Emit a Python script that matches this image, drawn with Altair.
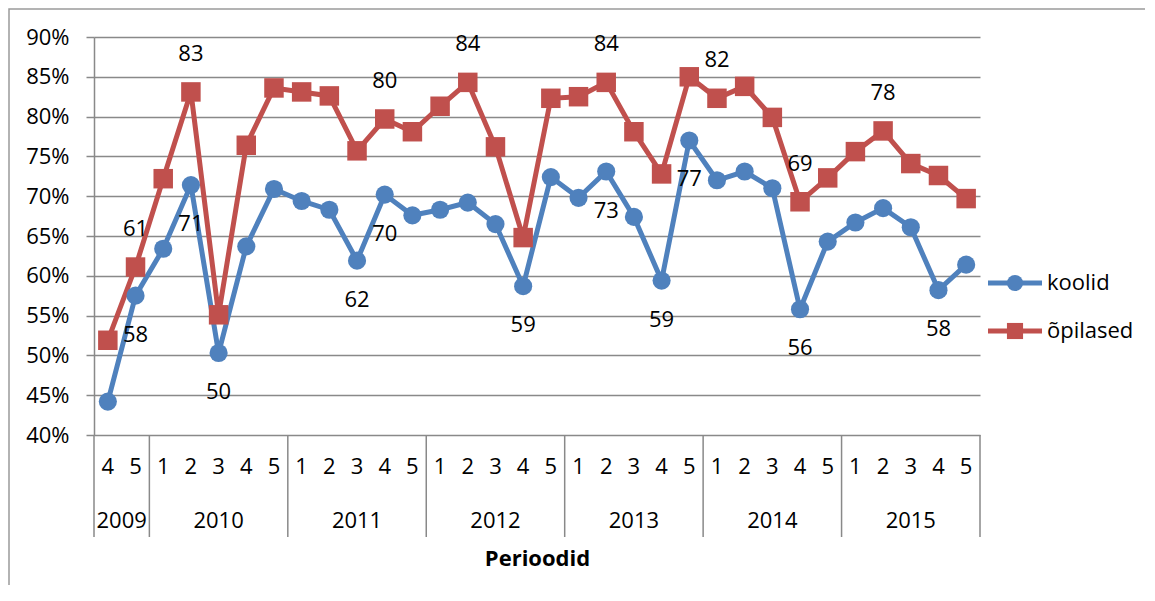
import altair as alt
import pandas as pd

# ---- data ----
years = ["2009", "2009",
         "2010", "2010", "2010", "2010", "2010",
         "2011", "2011", "2011", "2011", "2011",
         "2012", "2012", "2012", "2012", "2012",
         "2013", "2013", "2013", "2013", "2013",
         "2014", "2014", "2014", "2014", "2014",
         "2015", "2015", "2015", "2015", "2015"]
quarters = ["4", "5",
            "1", "2", "3", "4", "5",
            "1", "2", "3", "4", "5",
            "1", "2", "3", "4", "5",
            "1", "2", "3", "4", "5",
            "1", "2", "3", "4", "5",
            "1", "2", "3", "4", "5"]
koolid = [44.2, 57.5, 63.4, 71.4, 50.3, 63.7, 70.9, 69.4, 68.3, 61.9, 70.2,
          67.6, 68.3, 69.2, 66.5, 58.7, 72.4, 69.8, 73.1, 67.4, 59.4, 77.0,
          72.0, 73.1, 71.0, 55.8, 64.3, 66.7, 68.5, 66.1, 58.2, 61.4]
opilased = [51.9, 61.1, 72.2, 83.1, 55.1, 76.4, 83.6, 83.1, 82.6, 75.7, 79.7,
            78.1, 81.3, 84.3, 76.2, 64.8, 82.3, 82.5, 84.3, 78.1, 72.8, 85.0,
            82.3, 83.8, 79.9, 69.3, 72.3, 75.6, 78.2, 74.1, 72.6, 69.7]
koolid_labels = ["", "58", "", "71", "50", "", "", "", "", "62", "70", "", "", "",
                 "", "59", "", "", "73", "", "59", "77", "", "", "", "56", "", "",
                 "", "", "58", ""]
opilased_labels = ["", "61", "", "83", "", "", "", "", "", "", "80", "", "", "84",
                   "", "", "", "", "84", "", "", "", "82", "", "", "69", "", "",
                   "78", "", "", ""]
series_names = ["koolid", "õpilased"]
colors = ["#4F81BD", "#C0504D"]
y_ticks = [0.40, 0.45, 0.50, 0.55, 0.60, 0.65, 0.70, 0.75, 0.80, 0.85, 0.90]

FONT = "Open Sans"
GRAY = "#898989"
FS = 22

# ---- tables ----
n = len(years)
rows = []
for i in range(n):
    rows.append({"i": i, "year": years[i], "q": quarters[i], "series": "koolid",
                 "v": koolid[i] / 100, "lab": koolid_labels[i]})
for i in range(n):
    rows.append({"i": i, "year": years[i], "q": quarters[i], "series": "õpilased",
                 "v": opilased[i] / 100, "lab": opilased_labels[i]})
df = pd.DataFrame(rows)

cats = pd.DataFrame({"i": list(range(n)), "q": quarters, "year": years})
yr = cats.groupby("year", sort=False)["i"].agg(["min", "max"]).reset_index()
yr["center"] = (yr["min"] + yr["max"]) / 2
bounds = pd.DataFrame({"b": [m - 0.5 for m in yr["min"]] + [yr["max"].iloc[-1] + 0.5]})

xscale = alt.Scale(domain=[-0.5, n - 0.5], nice=False, zero=False)
yscale = alt.Scale(domain=[0.4, 0.9], nice=False, zero=False)
cscale = alt.Scale(domain=series_names, range=colors)

xaxis = alt.Axis(labels=False, ticks=False, grid=False, domain=False,
                 title="Perioodid", titleFont=FONT, titleFontSize=FS,
                 titleFontWeight="bold", titleColor="black", titlePadding=113)
yaxis = alt.Axis(values=y_ticks, tickCount=11, format=".0%", title=None,
                 labelOverlap=False, labelFont=FONT, labelFontSize=FS,
                 labelColor="black", labelPadding=17, tickSize=8,
                 tickColor=GRAY, tickWidth=1.5, domainColor=GRAY,
                 domainWidth=1.5, gridColor=GRAY, gridWidth=1.5)
X = alt.X("i:Q", scale=xscale, axis=xaxis)
Y = alt.Y("v:Q", scale=yscale, axis=yaxis)

base = alt.Chart(df)

lines = base.mark_line(strokeWidth=5).encode(
    x=X, y=Y,
    color=alt.Color("series:N", scale=cscale, legend=None),
    detail="series:N",
)
circles = base.transform_filter(alt.datum.series == "koolid").mark_point(
    shape="circle", filled=True, opacity=1, size=330, strokeWidth=0
).encode(x=X, y=Y, color=alt.Color("series:N", scale=cscale, legend=None))
squares = base.transform_filter(alt.datum.series == "õpilased").mark_point(
    shape="square", filled=True, opacity=1, size=380, strokeWidth=0
).encode(x=X, y=Y, color=alt.Color("series:N", scale=cscale, legend=None))

lab_k = base.transform_filter(alt.datum.series == "koolid").mark_text(
    font=FONT, fontSize=FS, color="black", dy=39, baseline="middle"
).encode(x=X, y=Y, text="lab:N")
lab_o = base.transform_filter(alt.datum.series == "õpilased").mark_text(
    font=FONT, fontSize=FS, color="black", dy=-38, baseline="middle"
).encode(x=X, y=Y, text="lab:N")

# category axis (two levels)
q_text = alt.Chart(cats).mark_text(font=FONT, fontSize=FS, color="black",
                                   baseline="middle").encode(
    x=X, y=alt.value(430), text="q:N")
y_text = alt.Chart(yr).mark_text(font=FONT, fontSize=FS, color="black",
                                 baseline="middle").encode(
    x=alt.X("center:Q", scale=xscale, axis=xaxis), y=alt.value(484), text="year:N")
seps = alt.Chart(bounds).mark_rule(color=GRAY, strokeWidth=1.5).encode(
    x=alt.X("b:Q", scale=xscale, axis=xaxis), y=alt.value(398), y2=alt.value(500))

# legend (line segment with marker + label), drawn to the right of the plot
leg_df = pd.DataFrame({"name": series_names, "color": colors})
legend_layers = []
for k, (name, col, shp, sz) in enumerate(zip(series_names, colors,
                                               ["circle", "square"], [260, 260])):
    ly = 246 + 48 * k
    one = leg_df[leg_df["name"] == name]
    legend_layers.append(alt.Chart(one).mark_rule(color=col, strokeWidth=5).encode(
        x=alt.value(894), x2=alt.value(948), y=alt.value(ly)))
    legend_layers.append(alt.Chart(one).mark_point(
        shape=shp, filled=True, opacity=1, size=sz, strokeWidth=0, color=col
    ).encode(x=alt.value(921), y=alt.value(ly)))
    legend_layers.append(alt.Chart(one).mark_text(
        font=FONT, fontSize=FS, color="black", align="left", baseline="middle"
    ).encode(x=alt.value(953), y=alt.value(ly), text="name:N"))

# outer chart frame (left and top edges; the rest lies outside the picture)
frame_df = pd.DataFrame({"k": [0]})
frame = alt.Chart(frame_df).mark_rect(fill="transparent", stroke="#9a9a9a",
                                      strokeWidth=1.5).encode(
    x=alt.value(-85), x2=alt.value(1200), y=alt.value(-28), y2=alt.value(700))

chart = alt.layer(
    frame, lines, circles, squares, lab_k, lab_o,
    q_text, y_text, seps, *legend_layers
).properties(
    width=886, height=398,
    autosize=alt.AutoSizeParams(type="none"),
    padding={"left": 86, "top": 29, "right": 165, "bottom": 150},
    background="white",
).configure_view(stroke=None)

chart.save("out.html", embed_options={"renderer": "svg", "actions": False})
